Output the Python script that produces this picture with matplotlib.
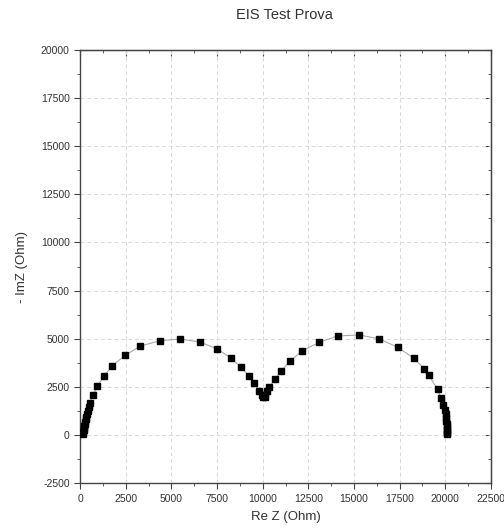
import matplotlib
matplotlib.use("Agg")
import matplotlib.pyplot as plt
from matplotlib.ticker import MultipleLocator

plt.rcParams['font.family'] = ['Liberation Sans', 'DejaVu Sans']
plt.rcParams['axes.unicode_minus'] = False

# Nyquist data (Re Z, -Im Z), Ohm
re_z = [150, 170, 190, 210, 230, 250, 280, 310, 340, 380, 420, 470, 530,
        690, 950, 1290, 1770, 2460, 3300, 4380, 5470, 6570, 7480, 8270,
        8810, 9250, 9540, 9800, 9950, 10030, 10100, 10150, 10210, 10360,
        10690, 11000, 11500, 12170, 13100, 14100, 15280, 16390, 17390,
        18270, 18850, 19090, 19580, 19760, 19890, 19980, 20030, 20050,
        20060, 20070, 20080, 20080, 20090, 20090, 20090]
im_z = [60, 150, 250, 350, 460, 570, 690, 820, 960, 1110, 1270, 1460, 1680,
        2060, 2530, 3065, 3600, 4140, 4625, 4900, 4990, 4830, 4480, 4000,
        3520, 3065, 2690, 2300, 2100, 2000, 2000, 2100, 2300, 2510,
        2910, 3325, 3845, 4380, 4820, 5145, 5200, 4990, 4560,
        4000, 3450, 3120, 2370, 1900, 1560, 1300, 1100, 900,
        750, 600, 450, 320, 200, 100, 30]

fig = plt.figure(figsize=(5.04, 5.31), dpi=100)
ax = fig.add_axes([0.159, 0.090, 0.815, 0.816])

ax.plot(re_z, im_z, color='#aaaaaa', lw=0.8, marker='s', ms=5,
        mfc='black', mec='black', zorder=3)

ax.set_xlim(0, 22500)
ax.set_ylim(-2500, 20000)
ax.xaxis.set_major_locator(MultipleLocator(2500))
ax.xaxis.set_minor_locator(MultipleLocator(1250))
ax.yaxis.set_major_locator(MultipleLocator(2500))
ax.yaxis.set_minor_locator(MultipleLocator(1250))

ax.grid(True, which='major', color='#d8d8d8', ls=(0, (4, 3)), lw=0.7)
ax.set_axisbelow(True)

for s in ax.spines.values():
    s.set_color('#444444')
    s.set_linewidth(1.0)

ax.tick_params(which='both', direction='out', top=False, right=False,
               colors='#444444', labelsize=7.5, labelcolor='#333333')
ax.tick_params(which='major', length=4)
ax.tick_params(which='minor', length=2)
# inward ticks on top/right like Origin
ax2 = ax.secondary_xaxis('top')
ax2.xaxis.set_major_locator(MultipleLocator(2500))
ax2.xaxis.set_minor_locator(MultipleLocator(1250))
ax2.tick_params(which='both', direction='in', labeltop=False, colors='#444444')
ax2.tick_params(which='major', length=4)
ax2.tick_params(which='minor', length=2)
ax3 = ax.secondary_yaxis('right')
ax3.yaxis.set_major_locator(MultipleLocator(2500))
ax3.yaxis.set_minor_locator(MultipleLocator(1250))
ax3.tick_params(which='both', direction='in', labelright=False, colors='#444444')
ax3.tick_params(which='major', length=4)
ax3.tick_params(which='minor', length=2)

ax.set_xlabel('Re Z (Ohm)', fontsize=9.5, color='#333333', labelpad=5)
ax.set_ylabel('- ImZ (Ohm)', fontsize=9.5, color='#333333', labelpad=9)
fig.text(0.565, 0.972, 'EIS Test Prova', ha='center', va='center',
         fontsize=10.5, color='#333333')

fig.savefig('out.png', dpi=100)
